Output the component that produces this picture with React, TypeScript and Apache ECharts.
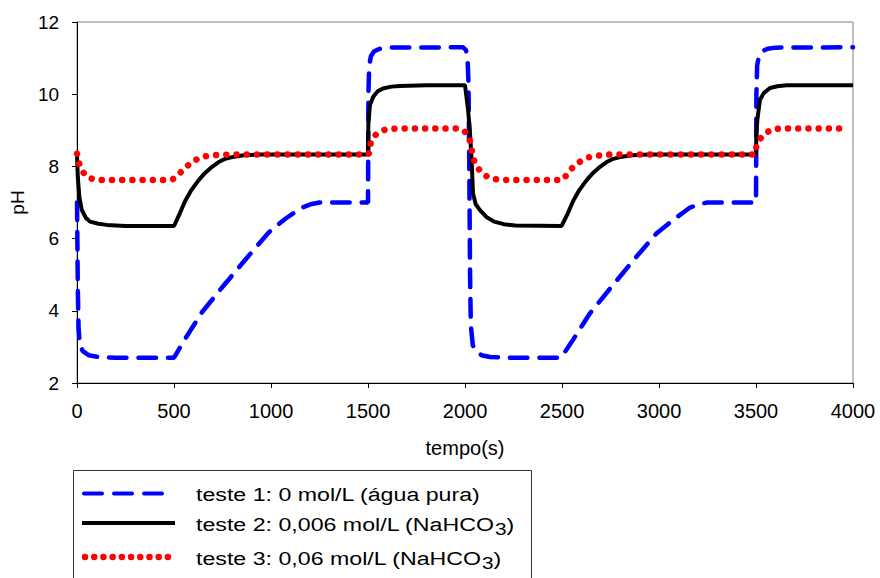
import React, { useEffect, useRef } from "react";
import * as echarts from "echarts";

const xTicks = { min: 0, max: 4000, interval: 500 };
const yTicks = { min: 2, max: 12, interval: 2 };

const nomes = [
  "teste 1: 0 mol/L (água pura)",
  "teste 2: 0,006 mol/L (NaHCO3)",
  "teste 3: 0,06 mol/L (NaHCO3)",
];

const teste1: [number, number][] = [
  [0, 7.0], [4, 4.6], [8, 3.5], [15, 3.05], [30, 2.88], [60, 2.77], [110, 2.72], [200, 2.7], [500, 2.7],
  [550, 3.16], [644, 3.96], [756, 4.7], [876, 5.47], [988, 6.17], [1074, 6.55], [1160, 6.86], [1210, 6.96], [1250, 7.0], [1500, 7.0],
  [1502, 10.0], [1506, 10.8], [1515, 11.05], [1530, 11.18], [1560, 11.26], [1600, 11.29], [1990, 11.3], [2005, 11.22], [2013, 11.0], [2018, 10.3], [2022, 8.0], [2026, 5.0], [2030, 3.6], [2040, 3.05], [2055, 2.88], [2085, 2.77], [2130, 2.72], [2220, 2.7], [2495, 2.7],
  [2550, 3.14], [2644, 3.93], [2756, 4.67], [2876, 5.45], [2988, 6.15], [3074, 6.52], [3160, 6.86], [3210, 6.96], [3250, 7.0], [3500, 7.0],
  [3502, 10.0], [3506, 10.8], [3515, 11.05], [3530, 11.18], [3560, 11.26], [3600, 11.29], [4000, 11.3],
];

const teste2: [number, number][] = [
  [0, 8.3], [4, 7.7], [12, 7.15], [24, 6.8], [45, 6.58], [67, 6.47], [110, 6.41], [153, 6.38], [250, 6.35], [500, 6.35],
  [530, 6.7], [558, 7.05], [590, 7.35], [627, 7.62], [660, 7.82], [696, 7.99], [730, 8.12], [764, 8.21], [810, 8.27], [860, 8.31], [950, 8.33], [1500, 8.33],
  [1502, 9.2], [1510, 9.7], [1527, 9.93], [1550, 10.08], [1577, 10.16], [1620, 10.21], [1665, 10.23], [1800, 10.25], [2000, 10.25],
  [2015, 9.6], [2025, 9.0], [2034, 8.18], [2041, 7.26], [2055, 6.95], [2077, 6.79], [2110, 6.6], [2150, 6.47], [2200, 6.4], [2260, 6.36], [2498, 6.35],
  [2530, 6.7], [2558, 7.05], [2590, 7.35], [2627, 7.62], [2660, 7.82], [2696, 7.99], [2730, 8.12], [2764, 8.21], [2810, 8.27], [2860, 8.31], [2950, 8.33], [3500, 8.33],
  [3502, 8.9], [3507, 9.29], [3520, 9.84], [3540, 10.03], [3572, 10.17], [3610, 10.22], [3658, 10.25], [4000, 10.25],
];

const teste3: [number, number][] = [
  [0, 8.35], [8, 8.12], [20, 7.95], [41, 7.76], [65, 7.68], [88, 7.64], [140, 7.62], [470, 7.62], [495, 7.65], [513, 7.71], [535, 7.84], [557, 7.96], [600, 8.15], [646, 8.27], [700, 8.31], [800, 8.33], [1500, 8.33],
  [1507, 8.38], [1514, 8.66], [1530, 8.82], [1548, 8.92], [1593, 9.03], [1650, 9.05], [1965, 9.05], [1990, 9.0], [2008, 8.92], [2029, 8.66], [2038, 8.34], [2052, 8.07], [2086, 7.81], [2129, 7.67], [2180, 7.63], [2250, 7.62], [2490, 7.62],
  [2507, 7.64], [2525, 7.78], [2545, 7.92], [2589, 8.12], [2636, 8.25], [2687, 8.3], [2750, 8.33], [3495, 8.33],
  [3503, 8.59], [3520, 8.75], [3538, 8.87], [3581, 9.03], [3630, 9.05], [3970, 9.05],
];

const FONT = "'Liberation Sans', Arial, sans-serif";

const BLUE = { color: "#0000ff", width: 4.5, dash: [17.5, 12] };
const BLACK = { color: "#000000", width: 4 };
const RED = { color: "#ff0000", width: 6.5, dash: [0.01, 10.2] };

export default function App() {
  const ref = useRef<HTMLDivElement>(null);
  useEffect(() => {
    if (!ref.current) return;
    const chart = echarts.init(ref.current, null, { renderer: "svg" });
    const legendRows = [493.5, 523, 557];
    const legendText = (i: number) => nomes[i].replace("NaHCO3", "NaHCO{sub|3}");
    const textEl = (i: number) => ({
      type: "text",
      x: 196,
      y: legendRows[i] + 1,
      scaleX: 1.22,
      style: {
        text: legendText(i),
        x: 0,
        y: 0,
        fill: "#000",
        fontFamily: FONT,
        fontSize: 19,
        verticalAlign: "middle",
        align: "left",
        rich: {
          sub: { fontFamily: FONT, fontSize: 17, fill: "#000", padding: [11, 0, 0, 0] },
        },
      },
    });
    chart.setOption({
      animation: false,
      backgroundColor: "#ffffff",
      grid: {
        left: 77,
        right: 27,
        top: 22,
        bottom: 195,
        show: true,
        borderColor: "#808080",
        borderWidth: 1,
        backgroundColor: "transparent",
      },
      xAxis: {
        type: "value",
        min: xTicks.min,
        max: xTicks.max,
        interval: xTicks.interval,
        name: "tempo(s)",
        nameLocation: "middle",
        nameGap: 55,
        nameTextStyle: { fontFamily: FONT, fontSize: 20, color: "#000" },
        axisLine: { lineStyle: { color: "#000", width: 1 } },
        axisTick: { show: true, length: 5, lineStyle: { color: "#000" } },
        axisLabel: {
          margin: 18,
          fontFamily: FONT,
          fontSize: 20,
          color: "#000",
          formatter: (v: number) => String(v),
        },
        splitLine: { show: false },
      },
      yAxis: {
        type: "value",
        min: yTicks.min,
        max: yTicks.max,
        interval: yTicks.interval,
        name: "pH",
        nameLocation: "middle",
        nameGap: 50,
        nameTextStyle: { fontFamily: FONT, fontSize: 19, color: "#000" },
        axisLine: { show: true, lineStyle: { color: "#000", width: 1 } },
        axisTick: { show: true, length: 5, lineStyle: { color: "#000" } },
        axisLabel: {
          margin: 18,
          fontFamily: FONT,
          fontSize: 19,
          color: "#000",
          formatter: (v: number) => String(v),
        },
        splitLine: { show: false },
      },
      graphic: [
        {
          type: "rect",
          z: 0,
          shape: { x: 73.5, y: 470.5, width: 458, height: 140 },
          style: { fill: "none", stroke: "#333", lineWidth: 1 },
        },
        {
          type: "line",
          shape: { x1: 84, y1: legendRows[0], x2: 164, y2: legendRows[0] },
          style: { stroke: BLUE.color, lineWidth: 4, lineDash: [18, 12], lineCap: "round" },
        },
        {
          type: "line",
          shape: { x1: 82, y1: legendRows[1], x2: 175, y2: legendRows[1] },
          style: { stroke: BLACK.color, lineWidth: 4 },
        },
        {
          type: "line",
          shape: { x1: 85, y1: legendRows[2], x2: 169, y2: legendRows[2] },
          style: { stroke: RED.color, lineWidth: 6.5, lineDash: [0.01, 9.2], lineCap: "round" },
        },
        textEl(0),
        textEl(1),
        textEl(2),
      ],
      series: [
        {
          name: nomes[0],
          type: "line",
          data: teste1,
          showSymbol: false,
          symbol: "none",
          clip: false,
          lineStyle: { color: BLUE.color, width: BLUE.width, type: BLUE.dash, cap: "round" },
        },
        {
          name: nomes[1],
          type: "line",
          data: teste2,
          showSymbol: false,
          symbol: "none",
          clip: false,
          lineStyle: { color: BLACK.color, width: BLACK.width, type: "solid" },
        },
        {
          name: nomes[2],
          type: "line",
          data: teste3,
          showSymbol: false,
          symbol: "none",
          clip: false,
          lineStyle: { color: RED.color, width: RED.width, type: RED.dash, cap: "round" },
        },
      ],
    });
    return () => chart.dispose();
  }, []);
  return (
    <div
      ref={ref}
      style={{ position: "absolute", left: 0, top: 0, width: 880, height: 578 }}
    />
  );
}
